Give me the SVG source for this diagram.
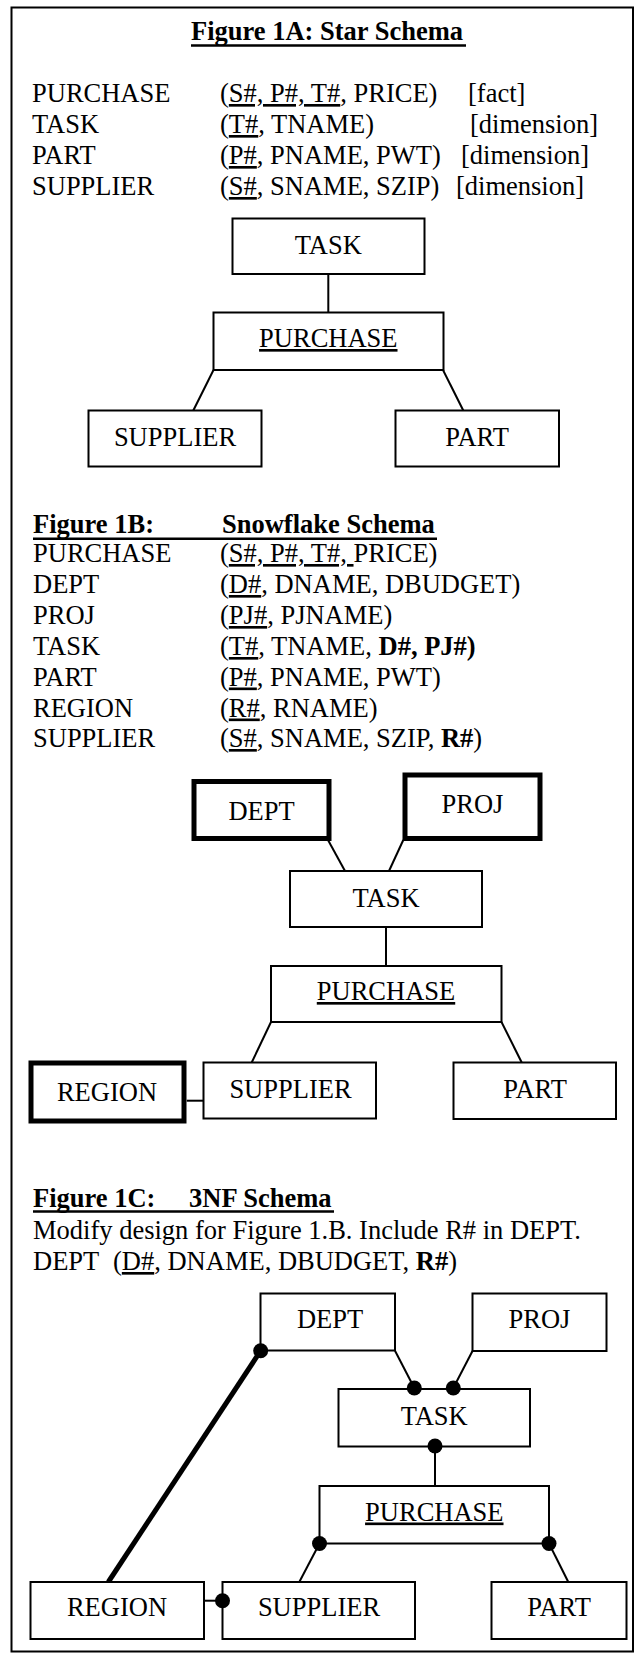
<svg xmlns="http://www.w3.org/2000/svg" width="644" height="1653" viewBox="0 0 644 1653">
<style>
.t{font-family:"Liberation Serif","Times New Roman",serif;font-size:26.5px;fill:#000}
.m{text-anchor:middle}
.b{font-weight:bold}
.u{text-decoration:underline}
.box{fill:#fff;stroke:#000;stroke-width:2}
.thick{fill:#fff;stroke:#000;stroke-width:5}
.ln{stroke:#000;stroke-width:2;fill:none}
.tl{stroke:#000;stroke-width:2.4;fill:none}
.dot{fill:#000}
</style>
<rect x="11.5" y="7.5" width="621.5" height="1644" fill="#fff" stroke="#000" stroke-width="2"/>

<g id="fig1a-text">
<text class="t b" x="191" y="39.5">Figure 1A: Star Schema</text>
<line class="tl" x1="191" y1="45.5" x2="466" y2="45.5"/>
<text class="t" x="32" y="102">PURCHASE<tspan x="220">(</tspan><tspan class="u">S#, P#, T#</tspan>, PRICE)<tspan x="468">[fact]</tspan></text>
<text class="t" x="32" y="133">TASK<tspan x="220">(</tspan><tspan class="u">T#</tspan>, TNAME)<tspan x="470">[dimension]</tspan></text>
<text class="t" x="32" y="164">PART<tspan x="220">(</tspan><tspan class="u">P#</tspan>, PNAME, PWT)<tspan x="461">[dimension]</tspan></text>
<text class="t" x="32" y="195">SUPPLIER<tspan x="220">(</tspan><tspan class="u">S#</tspan>, SNAME, SZIP)<tspan x="456">[dimension]</tspan></text>
</g>

<g id="connectors-1a">
<line class="ln" x1="328.3" y1="274" x2="328.3" y2="312.5"/>
<line class="ln" x1="213.5" y1="370" x2="193.3" y2="410.5"/>
<line class="ln" x1="443" y1="370" x2="463.3" y2="410.5"/>
</g>
<g id="a-task"><rect class="box" x="232.5" y="218.5" width="192" height="55.5"/><text class="t m" x="328.3" y="254">TASK</text></g>
<g id="a-purchase"><rect class="box" x="213.5" y="312.5" width="230" height="57.5"/><text class="t m u" x="328.3" y="347">PURCHASE</text></g>
<g id="a-supplier"><rect class="box" x="88.5" y="410.5" width="173" height="56"/><text class="t m" x="175" y="446">SUPPLIER</text></g>
<g id="a-part"><rect class="box" x="395.5" y="410.5" width="163.5" height="56"/><text class="t m" x="477" y="446">PART</text></g>

<g id="fig1b-text">
<text class="t b" x="33" y="533">Figure 1B:<tspan x="222">Snowflake Schema</tspan></text>
<line class="tl" x1="33" y1="538.7" x2="437" y2="538.7"/>
<text class="t" x="33" y="562">PURCHASE<tspan x="220">(</tspan><tspan class="u">S#, P#, T#, </tspan>PRICE)</text>
<text class="t" x="33" y="593">DEPT<tspan x="220">(</tspan><tspan class="u">D#</tspan>, DNAME, DBUDGET)</text>
<text class="t" x="33" y="624">PROJ<tspan x="220">(</tspan><tspan class="u">PJ#</tspan>, PJNAME)</text>
<text class="t" x="33" y="655">TASK<tspan x="220">(</tspan><tspan class="u">T#</tspan>, TNAME, <tspan class="b">D#, PJ#)</tspan></text>
<text class="t" x="33" y="685.5">PART<tspan x="220">(</tspan><tspan class="u">P#</tspan>, PNAME, PWT)</text>
<text class="t" x="33" y="716.5">REGION<tspan x="220">(</tspan><tspan class="u">R#</tspan>, RNAME)</text>
<text class="t" x="33" y="747">SUPPLIER<tspan x="220">(</tspan><tspan class="u">S#</tspan>, SNAME, SZIP, <tspan class="b">R#</tspan>)</text>
</g>

<g id="connectors-1b">
<line class="ln" x1="328" y1="840" x2="345" y2="871"/>
<line class="ln" x1="403.3" y1="840" x2="389" y2="871"/>
<line class="ln" x1="386" y1="927" x2="386" y2="966"/>
<line class="ln" x1="271" y1="1022" x2="251.7" y2="1062.5"/>
<line class="ln" x1="501.5" y1="1022" x2="521.7" y2="1062.5"/>
<line class="ln" x1="186.7" y1="1100.7" x2="203.5" y2="1100.7" stroke-width="2.6"/>
</g>
<g id="b-dept"><rect class="thick" x="194" y="781.5" width="135" height="57"/><text class="t m" x="261.5" y="820">DEPT</text></g>
<g id="b-proj"><rect class="thick" x="405" y="775" width="135" height="63.5"/><text class="t m" x="472.5" y="813">PROJ</text></g>
<g id="b-task"><rect class="box" x="290" y="871" width="192" height="56"/><text class="t m" x="386" y="907">TASK</text></g>
<g id="b-purchase"><rect class="box" x="271" y="966" width="230.5" height="56"/><text class="t m u" x="386" y="1000">PURCHASE</text></g>
<g id="b-supplier"><rect class="box" x="203.5" y="1062.5" width="172.5" height="56"/><text class="t m" x="290.5" y="1098">SUPPLIER</text></g>
<g id="b-part"><rect class="box" x="453.5" y="1062.5" width="162.5" height="56.5"/><text class="t m" x="535" y="1098">PART</text></g>
<g id="b-region"><rect class="thick" x="31" y="1063" width="153" height="58"/><text class="t m" x="107" y="1100.5">REGION</text></g>

<g id="fig1c-text">
<text class="t b" x="33" y="1207">Figure 1C:<tspan x="189">3NF Schema</tspan></text>
<line class="tl" x1="33" y1="1211.5" x2="334" y2="1211.5"/>
<text class="t" x="33" y="1238.5">Modify design for Figure 1.B. Include R# in DEPT.</text>
<text class="t" x="33" y="1270">DEPT<tspan x="113">(</tspan><tspan class="u">D#</tspan>, DNAME, DBUDGET, <tspan class="b">R#</tspan>)</text>
</g>

<g id="connectors-1c">
<line class="ln" x1="395" y1="1350.7" x2="414.3" y2="1388"/>
<line class="ln" x1="472.5" y1="1351" x2="453.3" y2="1388"/>
<line class="ln" x1="435" y1="1446" x2="435" y2="1486"/>
<line class="ln" x1="319.5" y1="1543.5" x2="299.3" y2="1582"/>
<line class="ln" x1="549" y1="1543.5" x2="568.3" y2="1582"/>
<line class="ln" x1="204" y1="1600.7" x2="222.5" y2="1600.7"/>
<line x1="108.3" y1="1582" x2="260.7" y2="1350.7" stroke="#000" stroke-width="5"/>
</g>
<g id="c-dept"><rect class="box" x="260.5" y="1293.5" width="134.5" height="57"/><text class="t m" x="330" y="1328">DEPT</text></g>
<g id="c-proj"><rect class="box" x="472.5" y="1293.5" width="134" height="57.5"/><text class="t m" x="539.5" y="1328">PROJ</text></g>
<g id="c-task"><rect class="box" x="338.5" y="1389" width="191.5" height="57.5"/><text class="t m" x="434.2" y="1425">TASK</text></g>
<g id="c-purchase"><rect class="box" x="319.5" y="1486" width="229.5" height="57.5"/><text class="t m u" x="434.3" y="1520.5">PURCHASE</text></g>
<g id="c-region"><rect class="box" x="30.5" y="1582" width="173.5" height="57"/><text class="t m" x="117" y="1615.5">REGION</text></g>
<g id="c-supplier"><rect class="box" x="222.5" y="1582" width="192.5" height="57"/><text class="t m" x="319" y="1616">SUPPLIER</text></g>
<g id="c-part"><rect class="box" x="491.5" y="1582" width="135" height="57"/><text class="t m" x="559" y="1615.5">PART</text></g>
<g id="c-dots">
<circle class="dot" cx="260.7" cy="1350.7" r="7.5"/>
<circle class="dot" cx="414.3" cy="1388" r="7.5"/>
<circle class="dot" cx="453.3" cy="1388" r="7.5"/>
<circle class="dot" cx="435" cy="1446" r="7.5"/>
<circle class="dot" cx="319.5" cy="1543.5" r="7.5"/>
<circle class="dot" cx="549" cy="1543.5" r="7.5"/>
<circle class="dot" cx="222.5" cy="1600.7" r="7.5"/>
</g>
</svg>
